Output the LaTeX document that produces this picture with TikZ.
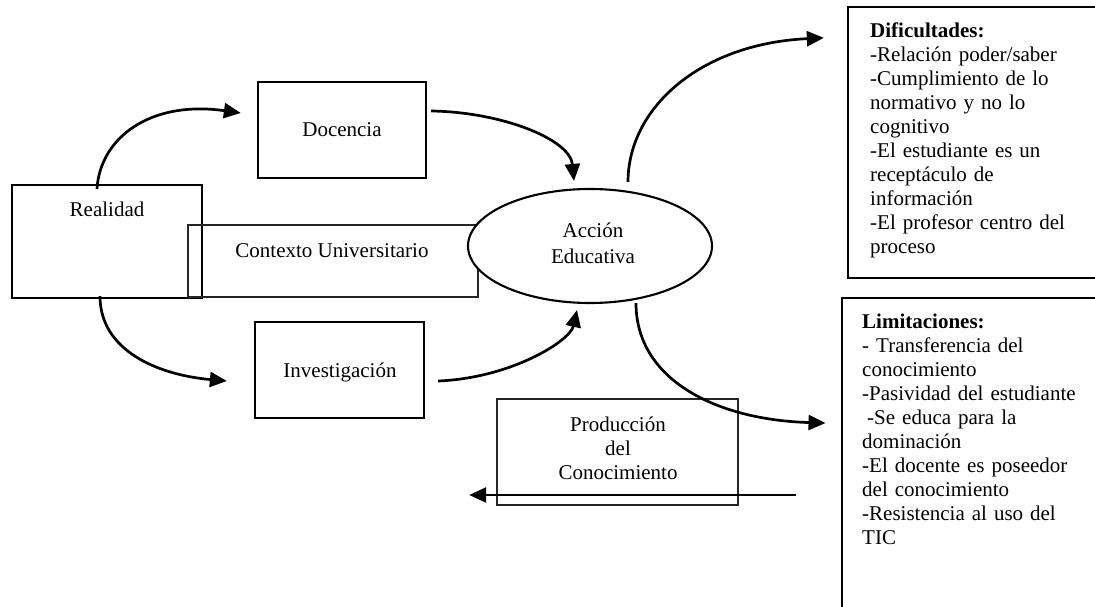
\documentclass[tikz,border=0pt]{standalone}
\usepackage{fontspec}
\setmainfont{Liberation Serif}
\usetikzlibrary{arrows.meta,shapes.geometric}
\begin{document}
\begin{tikzpicture}[x=1pt,y=-1pt,
  box/.style={draw, line width=2.3pt, inner sep=0pt},
  thinbox/.style={draw=black!85, line width=1.6pt, inner sep=0pt},
  lbl/.style={inner sep=0pt, font=\fontsize{21}{24}\selectfont},
  arr/.style={line width=2.7pt, -{Triangle[length=17pt,width=15pt]}},
]
\clip (0,0) rectangle (1095,607);

% boxes
\node[box, minimum width=190pt, minimum height=113pt] (real) at (107,241.5) {};
\node[thinbox, minimum width=290pt, minimum height=72pt] (ctx) at (333,261) {};
\node[box, minimum width=168pt, minimum height=96pt] (doc) at (342,130) {};
\node[box, minimum width=169pt, minimum height=96pt] (inv) at (339.5,370) {};
\node[thinbox, minimum width=241pt, minimum height=106pt] (prod) at (617.5,452) {};
\node[draw, ellipse, line width=2.1pt, fill=white, inner sep=0pt,
      minimum width=244pt, minimum height=114pt] (acc) at (590,246) {};
\node[box, minimum width=249pt, minimum height=271pt] (dif) at (972.5,142.5) {};
\node[box, line width=2.9pt, minimum width=255pt, minimum height=314pt] (lim) at (969.5,455) {};

% labels
\node[lbl, anchor=base] (realT) at (107,216) {Realidad};
\node[lbl, anchor=base] (docT) at (342,137) {Docencia};
\node[lbl, anchor=base] (ctxT) at (332,257) {Contexto Universitario};
\node[lbl, anchor=base] (invT) at (340,377) {Investigación};
\node[lbl, font=\fontsize{21}{26}\selectfont, anchor=base, align=center, text width=120pt]
  (accT) at (593,237) {Acción\\Educativa};
\node[lbl, anchor=base, align=center, text width=200pt]
  (prodT) at (618,431) {Producción\\del\\Conocimiento};
\node[lbl, anchor=base west, align=left, text width=225pt] (difT) at (870,38)
  {\textbf{Dificultades:}\\-Relación poder/saber\\-Cumplimiento de lo\\normativo y no lo\\cognitivo\\-El estudiante es un\\receptáculo de\\información\\-El profesor centro del\\proceso};
\node[lbl, anchor=base west, align=left, text width=230pt] (limT) at (862,328)
  {\textbf{Limitaciones:}\\- Transferencia del\\conocimiento\\-Pasividad del estudiante\\\hspace*{5pt}-Se educa para la\\dominación\\-El docente es poseedor\\del conocimiento\\-Resistencia al uso del\\TIC};

% connectors
\draw[arr] ([shift={(-10,5)}]real.north) .. controls +(3,-50) and +(-92,-13) .. ([shift={(-16,-17)}]doc.west);
\draw[arr] ([shift={(4,-19)}]doc.east) .. controls +(70,1) and +(-4,-42) .. ([shift={(-16,-7)}]acc.north);
\draw[arr] ([shift={(38,-6)}]acc.north) .. controls +(0,-73) and +(-125,6) .. ([shift={(-23,32)}]dif.north west);
\draw[arr] ([shift={(-7,-3)}]real.south) .. controls +(0,55) and +(-68,-6) .. ([shift={(-27,11)}]inv.west);
\draw[arr] ([shift={(13,11)}]inv.east) .. controls +(73,-3) and +(-7,31) .. ([shift={(-13,6)}]acc.south);
\draw[arr] ([shift={(46,-1)}]acc.south) .. controls +(0,78) and +(-107,-3) .. ([shift={(-15,-32)}]lim.west);
\coordinate (feedS) at ([shift={(-45,40)}]lim.west);
\coordinate (feedE) at ([shift={(-27,43)}]prod.west);
\draw[arr] (feedS) -- (feedE);
\end{tikzpicture}
\end{document}
